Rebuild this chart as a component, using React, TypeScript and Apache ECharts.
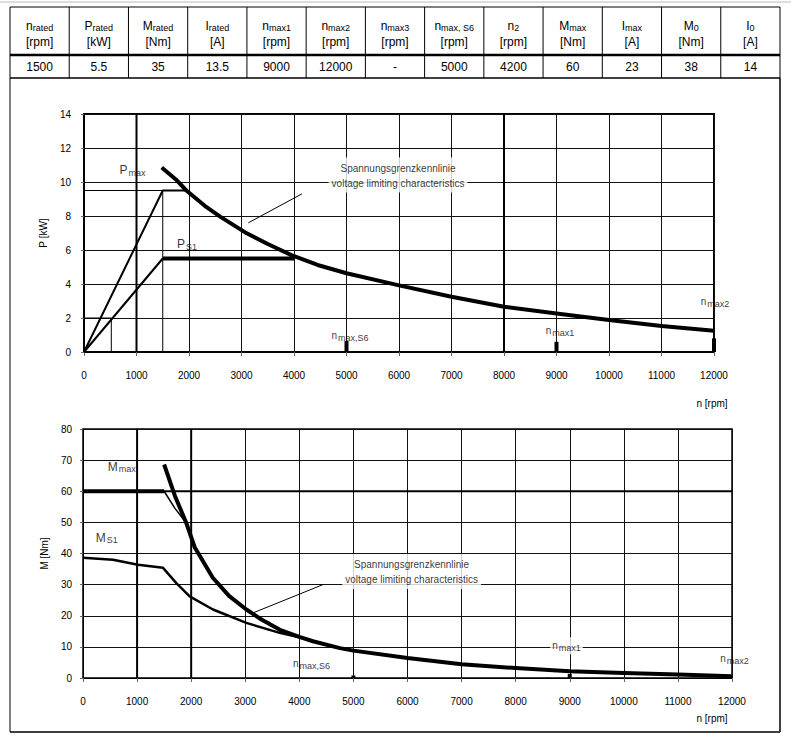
import React, { useEffect, useRef } from 'react';
import * as echarts from 'echarts';

// ---- table data ----
const headMain = ['n', 'P', 'M', 'I', 'n', 'n', 'n', 'n', 'n', 'M', 'I', 'M', 'I'];
const headSub = ['rated', 'rated', 'rated', 'rated', 'max1', 'max2', 'max3', 'max, S6', '2', 'max', 'max', '0', '0'];
const headUnit = ['[rpm]', '[kW]', '[Nm]', '[A]', '[rpm]', '[rpm]', '[rpm]', '[rpm]', '[rpm]', '[Nm]', '[A]', '[Nm]', '[A]'];
const tableValues = ['1500', '5.5', '35', '13.5', '9000', '12000', '-', '5000', '4200', '60', '23', '38', '14'];

// ---- axis ticks ----
const speedMax = 12000;
const speedStep = 1000;
const powerMax = 14;
const powerStep = 2;
const torqueMax = 80;
const torqueStep = 10;

// ---- power chart (n [rpm], P [kW]) ----
const pMaxRise = [[0, 0], [1500, 9.5], [1950, 9.5]];
const pS1Rise = [[0, 0], [1500, 5.5]];
const pS1Flat = [[1500, 5.5], [4000, 5.5]];
const pVoltN = [1480, 1750, 1950, 2300, 2600, 3100, 3500, 3950, 4450, 5000, 6000, 7000, 8000, 9000, 10000, 11000, 12000];
const pVoltP = [10.85, 10.15, 9.5, 8.6, 7.95, 6.98, 6.35, 5.7, 5.12, 4.63, 3.92, 3.25, 2.66, 2.27, 1.88, 1.53, 1.25];
const pRefH = [[0, 9.5], [1500, 9.5]];
const pRefV = [[1500, 0], [1500, 9.5]];
const pRefBox = [[0, 2], [520, 2], [520, 0]];
const pMarkS6 = [[5000, 0], [5000, 0.65]];
const pMark1 = [[9000, 0], [9000, 0.6]];
const pMark2 = [[12000, 0], [12000, 0.8]];
const pLeader = [[4150, 9.3], [3130, 7.6]];
const pBoldGrid = [1000, 8000];

// ---- torque chart (n [rpm], M [Nm]) ----
const mMaxFlat = [[0, 60], [1500, 60]];
const mMaxBend = [[1500, 60], [1700, 54.5], [1910, 49.8]];
const mVoltN = [1500, 1700, 1910, 2065, 2400, 2700, 3020, 3300, 3640, 4000, 4250, 4750, 5000, 6000, 7000, 8000, 9000, 10000, 11000, 12000];
const mVoltM = [68.6, 58.5, 49.8, 42.0, 32.2, 26.4, 22.0, 18.8, 15.5, 13.2, 11.8, 9.6, 8.8, 6.4, 4.4, 3.2, 2.2, 1.6, 1.1, 0.6];
const mS1N = [0, 555, 1017, 1480, 1726, 1972, 2403, 3020, 3636, 4000, 4250];
const mS1M = [38.6, 38.0, 36.4, 35.4, 30.5, 26.2, 22.0, 17.7, 14.5, 13.1, 12.0];
const mMarkS6 = [[5000, 0], [5000, 0.8]];
const mMark1 = [[9000, 0], [9000, 1.3]];
const mLeader = [[4436, 30.0], [3142, 20.9]];
const mBoldGrid = [1000, 2000];

const FONT = 'Liberation Sans, Arial, sans-serif';

function zip(a: number[], b: number[]) {
  return a.map((v, i) => [v, b[i]]);
}

function lineSeries(data: number[][], width: number, gi: number, z = 3) {
  return {
    type: 'line',
    xAxisIndex: gi,
    yAxisIndex: gi,
    data,
    symbol: 'none',
    silent: true,
    z,
    lineStyle: { color: '#000', width, cap: 'butt', join: 'round' },
  };
}

function textSeries(x: number, y: number, text: string, gi: number, extra: any = {}) {
  return {
    type: 'scatter',
    xAxisIndex: gi,
    yAxisIndex: gi,
    data: [[x, y]],
    symbolSize: 1,
    silent: true,
    clip: false,
    z: 6,
    itemStyle: { color: 'rgba(0,0,0,0)' },
    label: {
      show: true,
      position: 'inside',
      formatter: text,
      color: '#000',
      fontFamily: FONT,
      fontSize: 10,
      rich: {
        m: { fontSize: 12, fontFamily: FONT, color: '#000' },
        s: { fontSize: 9, fontFamily: FONT, color: '#000', padding: [5, 0, 0, 1] },
        t: { fontSize: 10, fontFamily: FONT, color: '#000', lineHeight: 15 },
      },
      ...extra,
    },
  };
}

function axisPair(gi: number, ymax: number, ystep: number, ylabMargin: number, name: string, nameGap: number) {
  const x = {
    type: 'value',
    gridIndex: gi,
    min: 0,
    max: speedMax,
    interval: speedStep,
    axisLine: { show: true, lineStyle: { color: '#000', width: 1 } },
    axisTick: { show: true, length: 4, lineStyle: { color: '#666' } },
    axisLabel: { margin: 18, color: '#000', fontSize: 10, fontFamily: FONT, formatter: (v: number) => String(v) },
    splitLine: { show: true, lineStyle: { color: '#111', width: 1 } },
  };
  const y = {
    type: 'value',
    gridIndex: gi,
    min: 0,
    max: ymax,
    interval: ystep,
    name,
    nameLocation: 'middle',
    nameRotate: 90,
    nameGap,
    nameTextStyle: { color: '#000', fontSize: 10, fontFamily: FONT },
    axisLine: { show: true, lineStyle: { color: '#000', width: 1 } },
    axisTick: { show: true, length: 3, lineStyle: { color: '#666' } },
    axisLabel: { margin: ylabMargin, color: '#000', fontSize: 10, fontFamily: FONT, formatter: (v: number) => String(v) },
    splitLine: { show: true, lineStyle: { color: '#111', width: 1 } },
  };
  return { x, y };
}

function buildTable() {
  const els: any[] = [];
  const x0 = 10;
  const x1 = 780;
  const colW = (x1 - x0) / headMain.length;
  const yTop = 7;
  const yMid = 55;
  const yBot = 78;
  els.push({ type: 'line', shape: { x1: 0, y1: 2, x2: 791, y2: 2 }, style: { stroke: '#bbb', lineWidth: 1 } });
  els.push({ type: 'line', shape: { x1: x0, y1: yTop, x2: x1, y2: yTop }, style: { stroke: '#000', lineWidth: 1 } });
  els.push({ type: 'line', shape: { x1: x0, y1: yMid, x2: x1, y2: yMid }, style: { stroke: '#000', lineWidth: 2.5 } });
  els.push({ type: 'line', shape: { x1: x0, y1: yBot, x2: x1, y2: yBot }, style: { stroke: '#000', lineWidth: 1.5 } });
  for (let i = 0; i <= headMain.length; i++) {
    const x = x0 + i * colW;
    els.push({ type: 'line', shape: { x1: x, y1: yTop, x2: x, y2: yBot }, style: { stroke: '#000', lineWidth: 1 } });
  }
  headMain.forEach((m, i) => {
    const cx = x0 + (i + 0.5) * colW;
    els.push({
      type: 'text',
      x: cx,
      y: 26,
      style: {
        text: `{m|${m}}{s|${headSub[i]}}`,
        align: 'center', verticalAlign: 'middle', textAlign: 'center', textVerticalAlign: 'middle',
        fill: '#000',
        rich: {
          m: { fontSize: 12, fontFamily: FONT, fill: '#000' },
          s: { fontSize: 9, fontFamily: FONT, fill: '#000', padding: [4, 0, 0, 0] },
        },
      },
    });
    els.push({
      type: 'text', x: cx, y: 42,
      style: { text: headUnit[i], align: 'center', verticalAlign: 'middle', textAlign: 'center', textVerticalAlign: 'middle', fill: '#000', fontSize: 12, fontFamily: FONT },
    });
    els.push({
      type: 'text', x: cx, y: 67,
      style: { text: tableValues[i], align: 'center', verticalAlign: 'middle', textAlign: 'center', textVerticalAlign: 'middle', fill: '#000', fontSize: 12, fontFamily: FONT },
    });
  });
  // outer frame of chart area
  els.push({ type: 'line', shape: { x1: x0, y1: yBot, x2: x0, y2: 732 }, style: { stroke: '#000', lineWidth: 1 } });
  els.push({ type: 'line', shape: { x1: x1, y1: yBot, x2: x1, y2: 732 }, style: { stroke: '#000', lineWidth: 1.5 } });
  els.push({ type: 'line', shape: { x1: x0, y1: 732, x2: x1, y2: 732 }, style: { stroke: '#000', lineWidth: 1.5 } });
  // unit labels of x axes
  els.push({ type: 'text', x: 712, y: 403, style: { text: 'n [rpm]', align: 'center', verticalAlign: 'middle', textAlign: 'center', textVerticalAlign: 'middle', fill: '#000', fontSize: 10, fontFamily: FONT } });
  els.push({ type: 'text', x: 712, y: 718, style: { text: 'n [rpm]', align: 'center', verticalAlign: 'middle', textAlign: 'center', textVerticalAlign: 'middle', fill: '#000', fontSize: 10, fontFamily: FONT } });
  return els;
}

export default function App() {
  const ref = useRef<HTMLDivElement>(null);
  useEffect(() => {
    document.body.style.margin = '0';
    if (!ref.current) return;
    const chart = echarts.init(ref.current, null, { renderer: 'svg' });
    const a0 = axisPair(0, powerMax, powerStep, 13, 'P [kW]', 32);
    const a1 = axisPair(1, torqueMax, torqueStep, 11, 'M [Nm]', 33);
    const boxLabel = {
      backgroundColor: '#fff',
      padding: [3, 3, 2, 3],
      lineHeight: 15,
      align: 'center',
      verticalAlign: 'middle',
    };
    const boldTop = pBoldGrid.map((v) => lineSeries([[v, 0], [v, powerMax]], 2, 0, 2));
    const boldBot = mBoldGrid.map((v) => lineSeries([[v, 0], [v, torqueMax]], 2, 1, 2));
    const option: any = {
      animation: false,
      backgroundColor: '#fff',
      textStyle: { fontFamily: FONT },
      grid: [
        { left: 84, top: 114, width: 630, height: 238, show: true, borderColor: '#000', borderWidth: 2, backgroundColor: 'transparent' },
        { left: 83, top: 429, width: 649, height: 249, show: true, borderColor: '#000', borderWidth: 1.5, backgroundColor: 'transparent' },
      ],
      xAxis: [a0.x, a1.x],
      yAxis: [a0.y, a1.y],
      graphic: buildTable(),
      series: [
        // power chart
        ...boldTop,
        lineSeries(pRefH, 1, 0),
        lineSeries(pRefV, 1, 0),
        lineSeries(pRefBox, 1, 0),
        lineSeries(pMaxRise, 2, 0),
        lineSeries(pS1Rise, 2, 0),
        lineSeries(pS1Flat, 4, 0),
        lineSeries(zip(pVoltN, pVoltP), 4, 0),
        lineSeries(pMarkS6, 4, 0),
        lineSeries(pMark1, 4, 0),
        lineSeries(pMark2, 4, 0),
        lineSeries(pLeader, 1, 0),
        textSeries(924, 10.7, '{m|P}{s|max}', 0),
        textSeries(1962, 6.35, '{m|P}{s|S1}', 0),
        textSeries(5067, 1.0, '{t|n}{s|max,S6}', 0),
        textSeries(9067, 1.24, '{t|n}{s|max1}', 0),
        textSeries(12019, 3.0, '{t|n}{s|max2}', 0),
        textSeries(5981, 10.41, 'Spannungsgrenzkennlinie\nvoltage limiting characteristics', 0, boxLabel),
        // torque chart
        ...boldBot,
        lineSeries([[0, 60], [speedMax, 60]], 2, 1, 2),
        lineSeries(mMaxFlat, 4, 1),
        lineSeries(mMaxBend, 1.5, 1),
        lineSeries(zip(mVoltN, mVoltM), 4, 1),
        lineSeries(zip(mS1N, mS1M), 2.5, 1),
        lineSeries(mMarkS6, 4, 1),
        lineSeries(mMark1, 4, 1),
        lineSeries(mLeader, 1, 1),
        textSeries(715, 67.8, '{m|M}{s|max}', 1),
        textSeries(438, 45.1, '{m|M}{s|S1}', 1),
        textSeries(4226, 4.6, '{t|n}{s|max,S6}', 1),
        textSeries(8941, 10.4, '{t|n}{s|max1}', 1, { backgroundColor: '#fff', padding: [1, 2] }),
        textSeries(12047, 6.2, '{t|n}{s|max2}', 1),
        textSeries(6076, 34.2, 'Spannungsgrenzkennlinie\nvoltage limiting characteristics', 1, boxLabel),
      ],
    };
    chart.setOption(option);
    return () => chart.dispose();
  }, []);
  return <div ref={ref} style={{ width: 791, height: 746, background: '#fff' }} />;
}
